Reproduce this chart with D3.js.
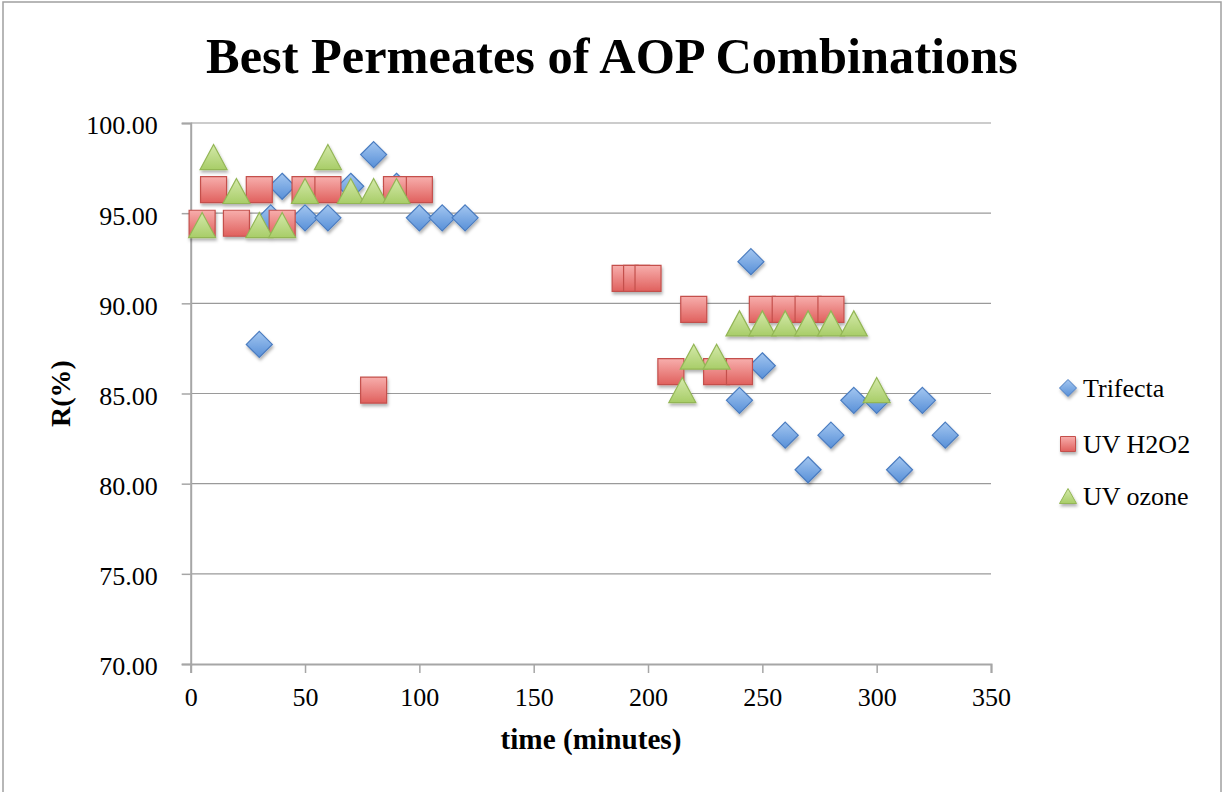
<!DOCTYPE html>
<html>
<head>
<meta charset="utf-8">
<script src="https://cdn.jsdelivr.net/npm/d3@7"></script>
<style>
  body { margin: 0; background: #fff; }
  text { font-family: "Liberation Serif", "Times New Roman", serif; fill: #000; }
</style>
</head>
<body>
<svg id="chart" width="1225" height="792"></svg>
<script>
// Removal R(%) over time for the three AOP combinations
const trifectaTime = [30, 35, 40, 50, 60, 70, 80, 90, 100, 110, 120,
                      240, 245, 250, 260, 270, 280, 290, 300, 310, 320, 330];
const trifectaR    = [87.72, 94.74, 96.49, 94.74, 94.74, 96.49, 98.25, 96.49, 94.74, 94.74, 94.74,
                      84.62, 92.31, 86.54, 82.69, 80.77, 82.69, 84.62, 84.62, 80.77, 84.62, 82.69];

const h2o2Time = [5, 10, 20, 30, 40, 50, 60, 80, 90, 100,
                  190, 195, 200, 210, 220, 230, 240, 250, 260, 270, 280];
const h2o2R    = [94.44, 96.30, 94.44, 96.30, 94.44, 96.30, 96.30, 85.19, 96.30, 96.30,
                  91.38, 91.38, 91.38, 86.21, 89.66, 86.21, 86.21, 89.66, 89.66, 89.66, 89.66];

const ozoneTime = [5, 10, 20, 30, 40, 50, 60, 70, 80, 90,
                   215, 220, 230, 240, 250, 260, 270, 280, 290, 300];
const ozoneR    = [94.34, 98.11, 96.23, 94.34, 94.34, 96.23, 98.11, 96.23, 96.23, 96.23,
                   85.19, 87.04, 87.04, 88.89, 88.89, 88.89, 88.89, 88.89, 88.89, 85.19];

const seriesNames = ["Trifecta", "UV H2O2", "UV ozone"];
const xTicks = [0, 50, 100, 150, 200, 250, 300, 350];
const yTicks = [70, 75, 80, 85, 90, 95, 100];

const titleText = "Best Permeates of AOP Combinations";
const xTitle = "time (minutes)";
const yTitle = "R(%)";

const svg = d3.select("#chart");

// outer chart frame
svg.append("rect")
  .attr("x", 3).attr("y", 2).attr("width", 1218).attr("height", 800)
  .attr("fill", "#fff").attr("stroke", "#a0a0a0").attr("stroke-width", 1.5);

const x = d3.scaleLinear().domain([0, 350]).range([190.7, 991]);
const y = d3.scaleLinear().domain([70, 100]).range([664, 123]);

// gradients + shadow for the markers
const defs = svg.append("defs");
const palettes = [
  { id: "gTri", top: "#a3c6f0", bot: "#5890d8", stroke: "#4a7cc0" },
  { id: "gSq",  top: "#f7aeac", bot: "#e0605d", stroke: "#c4504c" },
  { id: "gOz",  top: "#d4e9aa", bot: "#a8cd68", stroke: "#93b655" }
];
palettes.forEach(p => {
  const g = defs.append("linearGradient").attr("id", p.id)
    .attr("x1", 0).attr("y1", 0).attr("x2", 0).attr("y2", 1);
  g.append("stop").attr("offset", "0%").attr("stop-color", p.top);
  g.append("stop").attr("offset", "100%").attr("stop-color", p.bot);
});
const f = defs.append("filter").attr("id", "shadow")
  .attr("x", "-30%").attr("y", "-30%").attr("width", "170%").attr("height", "170%");
f.append("feDropShadow").attr("dx", 1).attr("dy", 2.5).attr("stdDeviation", 1.6)
  .attr("flood-color", "#000").attr("flood-opacity", 0.3);

// marker shapes, centred on 0,0
const diamond = r => `M0,${-r}L${r},0L0,${r}L${-r},0Z`;
const square = r => `M${-r},${-r}H${r}V${r}H${-r}Z`;
const triangle = (w, h) => `M0,${-h / 2}L${w / 2},${h / 2}H${-w / 2}Z`;

// gridlines
svg.append("g").selectAll("line").data(yTicks.filter(t => t > 70)).join("line")
  .attr("x1", x(0)).attr("x2", x(350))
  .attr("y1", d => y(d)).attr("y2", d => y(d))
  .attr("stroke", "#9a9a9a").attr("stroke-width", 1.2);

// y axis
const yAxis = svg.append("g").attr("transform", `translate(${x(0)},0)`)
  .call(d3.axisLeft(y).tickValues(yTicks).tickFormat(d3.format(".2f")).tickSize(9).tickPadding(24));
yAxis.select(".domain").attr("stroke", "#a6a6a6").attr("stroke-width", 2);
yAxis.selectAll(".tick line").attr("stroke", "#a6a6a6").attr("stroke-width", 1.5);
yAxis.selectAll(".tick text")
  .style("font-family", "'Liberation Serif', serif").style("font-size", "26px")
  .attr("fill", "#000").attr("dy", "0.42em");

// x axis
const xAxis = svg.append("g").attr("transform", `translate(0,${y(70)})`)
  .call(d3.axisBottom(x).tickValues(xTicks).tickFormat(d3.format("d")).tickSize(9).tickPadding(24));
xAxis.select(".domain").attr("stroke", "#a6a6a6").attr("stroke-width", 2);
xAxis.selectAll(".tick line").attr("stroke", "#a6a6a6").attr("stroke-width", 1.5);
xAxis.selectAll(".tick text")
  .style("font-family", "'Liberation Serif', serif").style("font-size", "26px")
  .attr("fill", "#000").attr("dy", "0.33em");

// fit a text element to a measured width
function fitWidth(sel, target) {
  const node = sel.node();
  const fs = parseFloat(sel.style("font-size"));
  const w = node.getComputedTextLength();
  sel.style("font-size", (fs * target / w) + "px");
}

// title
const title = svg.append("text").attr("x", 612).attr("y", 73)
  .attr("text-anchor", "middle").style("font-weight", "bold").style("font-size", "48px")
  .text(titleText);
fitWidth(title, 812);

// axis titles
const xt = svg.append("text").attr("x", 591).attr("y", 749)
  .attr("text-anchor", "middle").style("font-weight", "bold").style("font-size", "26px")
  .text(xTitle);
fitWidth(xt, 181);

svg.append("text").attr("transform", `translate(70,${(y(70) + y(100)) / 2}) rotate(-90)`)
  .attr("text-anchor", "middle").style("font-weight", "bold").style("font-size", "28px")
  .text(yTitle);

// data points: Trifecta, then UV H2O2, then UV ozone on top
const plot = svg.append("g").attr("filter", "url(#shadow)");

const triData = trifectaTime.map((t, i) => ({ t, r: trifectaR[i] }));
const sqData = h2o2Time.map((t, i) => ({ t, r: h2o2R[i] }));
const ozData = ozoneTime.map((t, i) => ({ t, r: ozoneR[i] }));

plot.append("g").selectAll("path").data(triData).join("path")
  .attr("d", diamond(13))
  .attr("transform", d => `translate(${x(d.t)},${y(d.r)})`)
  .attr("fill", "url(#gTri)").attr("stroke", palettes[0].stroke).attr("stroke-width", 1.2);

plot.append("g").selectAll("path").data(sqData).join("path")
  .attr("d", square(13))
  .attr("transform", d => `translate(${x(d.t)},${y(d.r)})`)
  .attr("fill", "url(#gSq)").attr("stroke", palettes[1].stroke).attr("stroke-width", 1.2);

plot.append("g").selectAll("path").data(ozData).join("path")
  .attr("d", triangle(27, 25))
  .attr("transform", d => `translate(${x(d.t)},${y(d.r)})`)
  .attr("fill", "url(#gOz)").attr("stroke", palettes[2].stroke).attr("stroke-width", 1.2);

// legend
const legendShapes = [diamond(8.5), square(7.5), triangle(17, 15)];
const legendY = [388, 444, 496];
const lg = svg.append("g");
seriesNames.forEach((name, i) => {
  lg.append("path").attr("d", legendShapes[i])
    .attr("transform", `translate(1068,${legendY[i]})`)
    .attr("fill", `url(#${palettes[i].id})`).attr("stroke", palettes[i].stroke)
    .attr("stroke-width", 1).attr("filter", "url(#shadow)");
  lg.append("text").attr("x", 1083).attr("y", legendY[i]).attr("dy", "0.36em")
    .style("font-size", "26px").text(name);
});
</script>
</body>
</html>
